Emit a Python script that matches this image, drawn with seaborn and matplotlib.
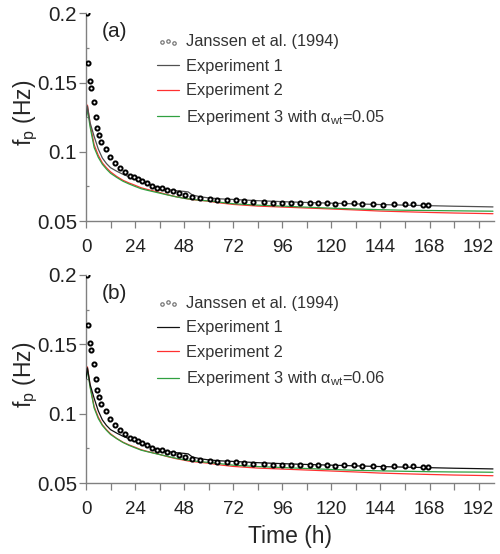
import numpy as np
import pandas as pd
import matplotlib
matplotlib.use("Agg")
import matplotlib.pyplot as plt
from matplotlib.ticker import MultipleLocator
import seaborn as sns

# %% data ----
janssen_h = [0.5, 1.1, 2.0, 2.6, 4.1, 4.7, 5.4, 6.2, 7.2, 9.6, 11.9, 14.2, 16.8, 19.1,
             21.5, 23.6, 25.3, 27.2, 29.7, 32.1, 34.7, 37.3, 39.7, 42.4, 45.6, 48.4,
             51.7, 55.7, 60.6, 64.2, 69.1, 73.2, 77.2, 81.8, 87.1, 91.5, 95.8, 100.0,
             104.6, 109.5, 113.5, 117.6, 121.7, 126.1, 131.0, 135.2, 140.4, 145.3,
             150.5, 155.9, 160.0, 164.9, 167.0]
janssen_fp = [0.200, 0.164, 0.151, 0.146, 0.136, 0.1248, 0.117, 0.112, 0.107, 0.102,
              0.0964, 0.092, 0.0884, 0.0851, 0.0825, 0.0817, 0.0805, 0.0790, 0.0772,
              0.0753, 0.0740, 0.0735, 0.0727, 0.0716, 0.0700, 0.0690, 0.0672, 0.0665,
              0.0658, 0.0652, 0.0651, 0.0650, 0.0644, 0.0640, 0.0634, 0.0633, 0.0632,
              0.0632, 0.0632, 0.0628, 0.0627, 0.0627, 0.0620, 0.0628, 0.0627, 0.0623,
              0.0623, 0.0615, 0.0623, 0.0620, 0.0622, 0.0615, 0.0615]

model_h = [0, 0.7, 2, 4, 6, 8, 10, 12, 15, 18, 21, 24, 27, 30, 35, 40, 44, 48, 50, 52,
           56, 60, 66, 72, 84, 96, 108, 120, 132, 144, 156, 168, 180, 192, 199]
exp1 = [0.125, 0.133, 0.121, 0.111, 0.102, 0.0955, 0.0915, 0.0885, 0.0860, 0.0838,
        0.0820, 0.0805, 0.0793, 0.0775, 0.0742, 0.0727, 0.0719, 0.0714, 0.0710, 0.0688,
        0.0675, 0.0667, 0.0660, 0.0656, 0.0647, 0.0640, 0.0634, 0.0629, 0.0624, 0.0619,
        0.0615, 0.0611, 0.0607, 0.0604, 0.0602]
exp2 = [0.126, 0.1337, 0.120, 0.105, 0.0975, 0.092, 0.0885, 0.0855, 0.0822, 0.0795,
        0.0775, 0.0758, 0.0740, 0.0728, 0.0710, 0.0690, 0.0676, 0.0665, 0.0659, 0.0655,
        0.0649, 0.0643, 0.0630, 0.0620, 0.0608, 0.0601, 0.0594, 0.0587, 0.0580, 0.0572,
        0.0567, 0.0562, 0.0558, 0.0555, 0.0553]
exp3_a = [0.122, 0.131, 0.118, 0.103, 0.0960, 0.0910, 0.0875, 0.0845, 0.0815, 0.0788,
          0.0768, 0.0750, 0.0733, 0.0722, 0.0705, 0.0688, 0.0675, 0.0664, 0.0660, 0.0656,
          0.0650, 0.0645, 0.0635, 0.0625, 0.0615, 0.0608, 0.0600, 0.0593, 0.0587, 0.0582,
          0.0578, 0.0576, 0.0574, 0.0572, 0.0571]
exp3_b = [0.123, 0.132, 0.119, 0.104, 0.0965, 0.0915, 0.0880, 0.0850, 0.0820, 0.0793,
          0.0772, 0.0754, 0.0737, 0.0726, 0.0709, 0.0692, 0.0679, 0.0668, 0.0664, 0.0660,
          0.0654, 0.0649, 0.0639, 0.0629, 0.0619, 0.0612, 0.0605, 0.0598, 0.0592, 0.0588,
          0.0585, 0.0582, 0.0580, 0.0579, 0.0578]

panels = [
    dict(tag='(a)', exp1_color='#505050', exp3=exp3_a, alpha_wt='0.05'),
    dict(tag='(b)', exp1_color='#111111', exp3=exp3_b, alpha_wt='0.06'),
]

# %% style ----
sns.set_style("ticks")
plt.rcParams['font.family'] = ['Liberation Sans', 'DejaVu Sans']
plt.rcParams['mathtext.fontset'] = 'custom'
plt.rcParams['mathtext.rm'] = 'Liberation Sans'
plt.rcParams['mathtext.it'] = 'Liberation Sans:italic'
plt.rcParams['text.color'] = '#222222'

fig = plt.figure(figsize=(5.0, 5.54), dpi=100)
ax_a = fig.add_axes([0.172, 0.601, 0.816, 0.375])
ax_b = fig.add_axes([0.172, 0.128, 0.816, 0.376])

jan_df = pd.DataFrame({'h': janssen_h, 'fp': janssen_fp})

for ax, p in zip([ax_a, ax_b], panels):
    mod_df = pd.DataFrame({'h': model_h, 'e1': exp1, 'e2': exp2, 'e3': p['exp3']})

    sns.scatterplot(data=jan_df, x='h', y='fp', ax=ax, marker='o', s=9,
                    facecolor='white', edgecolor='black', linewidth=1.4,
                    label='Janssen et al. (1994)', zorder=4)
    sns.lineplot(data=mod_df, x='h', y='e1', ax=ax, color=p['exp1_color'], lw=0.9,
                 label='Experiment 1', zorder=3)
    sns.lineplot(data=mod_df, x='h', y='e2', ax=ax, color='#ff3030', lw=0.9,
                 label='Experiment 2', zorder=2)
    sns.lineplot(data=mod_df, x='h', y='e3', ax=ax, color='#30a040', lw=0.9,
                 label=r'Experiment 3 with α$_{\rm wt}$=' + p['alpha_wt'], zorder=2)

    ax.set_xlim(0, 199.5)
    ax.set_ylim(0.05, 0.2)
    ax.xaxis.set_major_locator(MultipleLocator(24))
    ax.xaxis.set_minor_locator(MultipleLocator(12))
    ax.yaxis.set_major_locator(MultipleLocator(0.05))
    ax.yaxis.set_minor_locator(MultipleLocator(0.025))
    ax.yaxis.set_major_formatter(plt.FuncFormatter(lambda v, _: f'{v:g}'))
    ax.tick_params(axis='both', which='major', length=5, width=0.9, color='#808080',
                   labelcolor='#222222')
    ax.tick_params(axis='x', which='major', pad=8, labelsize=13.5)
    ax.tick_params(axis='y', which='major', pad=1.5, labelsize=14.8)
    ax.tick_params(axis='x', which='minor', length=5, width=0.9, color='#808080')
    ax.tick_params(axis='y', which='minor', direction='in', length=2, width=0.9,
                   color='#808080')
    sns.despine(ax=ax)
    for s in ['left', 'bottom']:
        ax.spines[s].set_color('#808080')
        ax.spines[s].set_linewidth(1.0)

    ax.set_ylabel(r'f$_{\rm p}$ (Hz)', fontsize=16.5)
    ax.yaxis.set_label_coords(-0.112, 0.52)
    ax.set_xlabel('')
    ax.text(0.07, 0.91, p['tag'], transform=ax.transAxes, fontsize=15,
            ha='center', va='center')

    leg = ax.legend(loc='upper left', bbox_to_anchor=(0.158, 0.93), frameon=False,
                    fontsize=11.8, handlelength=1.35, handletextpad=0.4,
                    labelspacing=0.58, scatterpoints=3, borderaxespad=0)
    for t in leg.get_texts():
        t.set_color('#333333')
    leg.legend_handles[0].set_sizes([6])
    leg.legend_handles[0].set_edgecolor('#777777')
    leg.legend_handles[0].set_linewidth(0.9)

ax_b.set_xlabel('Time (h)', fontsize=16.5, labelpad=5)

fig.savefig('out.png', dpi=100)
